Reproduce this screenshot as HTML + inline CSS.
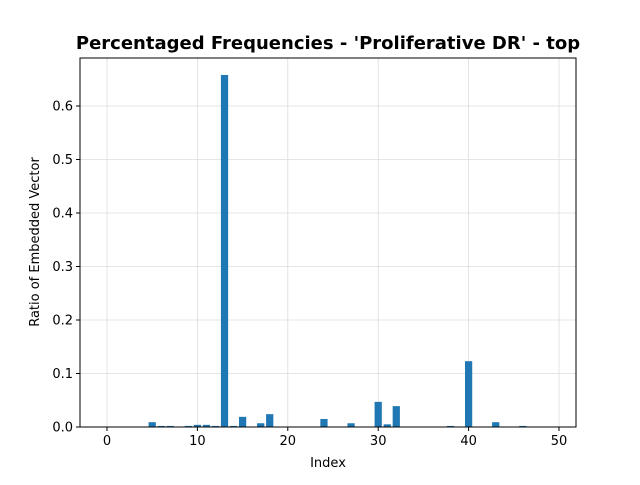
<!DOCTYPE html>
<html><head><meta charset="utf-8"><style>body{margin:0;background:#fff}svg text{font-family:"DejaVu Sans","Liberation Sans",sans-serif}</style></head>
<body>
<svg id="chart" width="640" height="480">
<rect width="640" height="480" fill="#fff"/>
<text x="328" y="49" text-anchor="middle" font-size="18" font-weight="bold">Percentaged Frequencies - 'Proliferative DR' - top</text>
<g id="grid"></g><g id="bars"></g><g id="axes"></g>
<text x="328" y="467" text-anchor="middle" font-size="13">Index</text>
<text transform="translate(39,242) rotate(-90)" text-anchor="middle" font-size="13">Ratio of Embedded Vector</text>
</svg>
<script>
const categories=[5,6,7,9,10,11,12,13,14,15,17,18,24,27,30,31,32,38,40,43,46];
const values=[0.009,0.002,0.002,0.002,0.004,0.004,0.002,0.658,0.002,0.019,0.007,0.024,0.015,0.007,0.047,0.005,0.039,0.002,0.123,0.009,0.002];
const xTicks=[0,10,20,30,40,50];
const yTicks=[0.0,0.1,0.2,0.3,0.4,0.5,0.6];
const L=80,R=576,T=58,B=427;
const sx=v=>107+v*(559-107)/50;
const sy=v=>B-v*535;
const NS="http://www.w3.org/2000/svg";
function mk(t,a,p){const e=document.createElementNS(NS,t);for(const k in a)e.setAttribute(k,a[k]);p.appendChild(e);return e;}
const grid=document.getElementById('grid'),bars=document.getElementById('bars'),axes=document.getElementById('axes');
xTicks.forEach(t=>{
 const g=mk('line',{x1:sx(t),x2:sx(t),y1:T,y2:B,stroke:'#dcdcdc','stroke-width':0.8},grid);
 
 
 const k=mk('line',{x1:sx(t),x2:sx(t),y1:B,y2:B+4,stroke:'#000'},axes);
 
 
 const l=mk('text',{x:sx(t),y:B+18,'text-anchor':'middle','font-size':13},axes);l.textContent=t;
 
 
});
yTicks.forEach(t=>{
 const g=mk('line',{x1:L,x2:R,y1:sy(t),y2:sy(t),stroke:'#dcdcdc','stroke-width':0.8},grid);
 
 
 const k=mk('line',{x1:L-4,x2:L,y1:sy(t),y2:sy(t),stroke:'#000'},axes);
 
 
 const l=mk('text',{x:L-7,y:sy(t)+4.5,'text-anchor':'end','font-size':13},axes);l.textContent=t.toFixed(1);
 
 
});
categories.forEach((c,i)=>{
 const w=sx(0.4)-sx(-0.4);
 const b=mk('rect',{x:sx(c)-w/2,y:sy(values[i]),width:w,height:B-sy(values[i]),fill:'#1f77b4'},bars);
 
 
});
const f=mk('rect',{x:L,y:T,width:R-L,height:B-T,fill:'none',stroke:'#000','stroke-width':1},axes);


</script>
</body></html>
